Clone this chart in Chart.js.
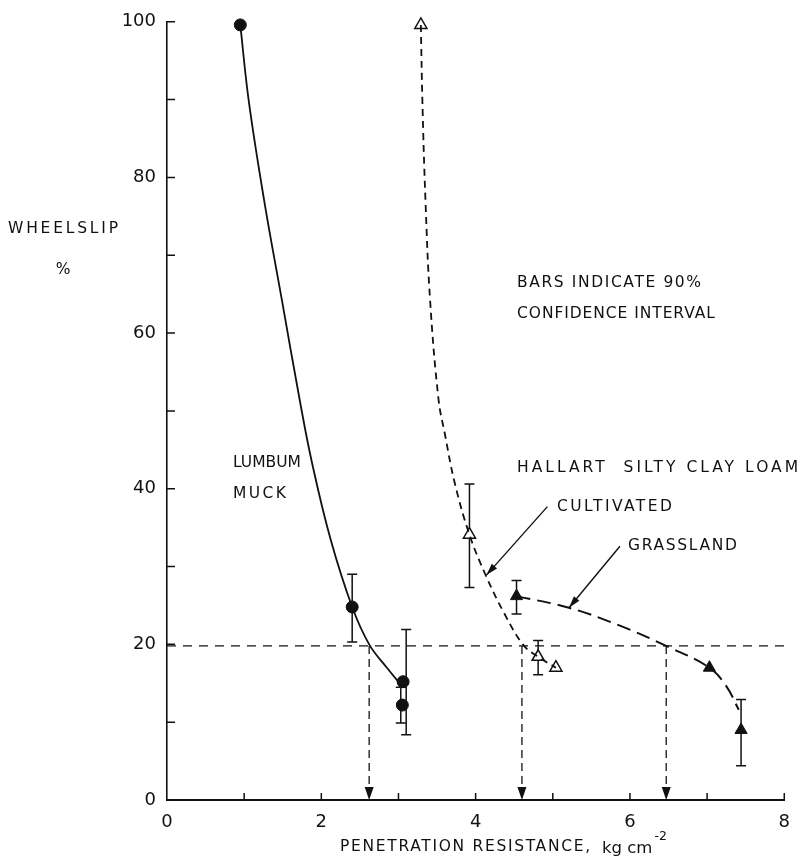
<!DOCTYPE html>
<html><head><meta charset="utf-8">
<script src="https://cdn.jsdelivr.net/npm/chart.js@4.4.0/dist/chart.umd.min.js"></script>
<style>html,body{margin:0;padding:0;background:#fff}#wrap{width:802px;height:866px;position:relative}</style>
</head><body><div id="wrap"><canvas id="c" width="802" height="866"></canvas></div>
<script>
// ---------- data ----------
const xTickValues=[0,1,2,3,4,5,6,7,8];
const xTickLabels=['0','','2','','4','','6','','8'];
const yTickValues=[0,10,20,30,40,50,60,70,80,90,100];
const yTickLabels=['0','','20','','40','','60','','80','','100'];

// Lumbum muck (filled circles, solid curve)
const lumbumX=[0.95,2.40,3.06,3.05];
const lumbumY=[99.6,24.8,15.2,12.2];
const lumbumErrX=[2.40,3.10,3.03];
const lumbumErrLo=[20.3,8.4,9.9];
const lumbumErrHi=[29.0,21.9,14.5];
const lumbumCurveX=[0.95,1.06,1.26,1.49,1.72,1.88,2.12,2.40,2.62,2.85,3.05];
const lumbumCurveY=[99.6,89.8,77.0,64.2,51.4,43.3,33.5,24.8,20.0,17.0,14.6];

// Hallart cultivated (open triangles, short dashes)
const cultX=[3.29,3.92,4.81,5.04];
const cultY=[99.6,34.1,18.4,17.0];
const cultErrX=[3.92,4.81];
const cultErrLo=[27.3,16.1];
const cultErrHi=[40.6,20.5];
const cultCurveX=[3.29,3.31,3.35,3.41,3.52,3.60,3.73,3.92,4.13,4.37,4.62,4.81,5.04];
const cultCurveY=[99.6,89.8,77.0,64.2,51.4,47.1,40.7,34.1,28.9,24.0,19.9,18.4,17.0];

// Hallart grassland (filled triangles, long dashes)
const grassX=[4.53,7.03,7.44];
const grassY=[26.2,17.0,9.0];
const grassErrX=[4.53,7.44];
const grassErrLo=[23.9,4.4];
const grassErrHi=[28.2,12.9];
const grassCurveX=[4.53,5.21,5.87,6.49,7.03,7.25,7.41];
const grassCurveY=[26.2,24.7,22.4,19.7,17.0,14.6,11.6];

// 20 % reference and the intercepts
const refY=19.8;
const refXs=[2.62,4.60,6.47];

const ink='#111';
const FONT='"DejaVu Sans", sans-serif';
const TXT='15.5px '+FONT;

function pts(xs,ys){return xs.map((x,i)=>({x:x,y:ys[i]}));}

function arrowHead(ctx,x1,y1,x2,y2,len,half){
  const a=Math.atan2(y2-y1,x2-x1);
  ctx.beginPath();
  ctx.moveTo(x2,y2);
  ctx.lineTo(x2-len*Math.cos(a)+half*Math.sin(a), y2-len*Math.sin(a)-half*Math.cos(a));
  ctx.lineTo(x2-len*Math.cos(a)-half*Math.sin(a), y2-len*Math.sin(a)+half*Math.cos(a));
  ctx.closePath();ctx.fill();
}
function fitText(ctx,txt,x,y,w){
  ctx.font=TXT;
  ctx.letterSpacing='0px';
  const m=ctx.measureText(txt).width;
  const ls=txt.length>1?(w-m)/(txt.length-1):0;
  ctx.letterSpacing=ls.toFixed(2)+'px';
  ctx.fillText(txt,x,y);
  ctx.letterSpacing='0px';
}

const decor={
  id:'decor',
  beforeDatasetsDraw(chart){
    const ctx=chart.ctx,xs=chart.scales.x,ys=chart.scales.y;
    ctx.save();
    ctx.strokeStyle=ink;ctx.lineWidth=1.5;ctx.setLineDash([]);
    const bars=[[lumbumErrX,lumbumErrLo,lumbumErrHi],[cultErrX,cultErrLo,cultErrHi],[grassErrX,grassErrLo,grassErrHi]];
    bars.forEach(([ex,lo,hi])=>{
      ex.forEach((x,i)=>{
        const px=xs.getPixelForValue(x),p1=ys.getPixelForValue(lo[i]),p2=ys.getPixelForValue(hi[i]);
        ctx.beginPath();
        ctx.moveTo(px,p1);ctx.lineTo(px,p2);
        ctx.moveTo(px-5,p1);ctx.lineTo(px+5,p1);
        ctx.moveTo(px-5,p2);ctx.lineTo(px+5,p2);
        ctx.stroke();
      });
    });
    ctx.restore();
  },
  afterDatasetsDraw(chart){
    const ctx=chart.ctx,xs=chart.scales.x,ys=chart.scales.y;
    const X=v=>xs.getPixelForValue(v),Y=v=>ys.getPixelForValue(v);
    ctx.save();
    ctx.fillStyle=ink;ctx.strokeStyle=ink;
    // inward tick marks
    ctx.lineWidth=1.5;ctx.setLineDash([]);
    ctx.beginPath();
    yTickValues.forEach(v=>{if(v>0){ctx.moveTo(X(0),Y(v));ctx.lineTo(X(0)+8,Y(v));}});
    xTickValues.forEach(v=>{if(v>0){ctx.moveTo(X(v),Y(0));ctx.lineTo(X(v),Y(0)-7);}});
    ctx.stroke();
    // arrowheads on intercept lines
    refXs.forEach(v=>arrowHead(ctx,X(v),Y(refY),X(v),Y(0),13,4.5));
    // annotation arrows
    ctx.lineWidth=1.4;
    const ann=[[4.93,37.7,4.14,28.9],[5.87,32.6,5.21,24.7]];
    ann.forEach(([a,b,c,d])=>{
      ctx.beginPath();ctx.moveTo(X(a),Y(b));ctx.lineTo(X(c),Y(d));ctx.stroke();
      arrowHead(ctx,X(a),Y(b),X(c),Y(d),12,3.5);
    });
    // texts
    ctx.textAlign='left';ctx.textBaseline='middle';
    fitText(ctx,'WHEELSLIP',8,229,110);
    ctx.font=TXT;
    ctx.textAlign='center';ctx.fillText('%',63,270);ctx.textAlign='left';
    fitText(ctx,'BARS INDICATE 90%',517,283,184);
    fitText(ctx,'CONFIDENCE INTERVAL',517,314,198);
    fitText(ctx,'LUMBUM',233,463,68);
    fitText(ctx,'MUCK',233,494,53);
    fitText(ctx,'HALLART  SILTY CLAY LOAM',517,468,281);
    fitText(ctx,'CULTIVATED',557,507,115);
    fitText(ctx,'GRASSLAND',628,546,109);
    // x axis title with superscript
    fitText(ctx,'PENETRATION RESISTANCE,',340,847,250);
    ctx.font='16.5px '+FONT;
    ctx.fillText('kg cm',602,849);
    const wkg=ctx.measureText('kg cm').width;
    ctx.font='12.5px '+FONT;
    ctx.fillText('-2',604+wkg,837);
    ctx.restore();
  }
};

const curveStyle={showLine:true,pointRadius:0,borderColor:ink,fill:false,tension:0.4,clip:false};
new Chart(document.getElementById('c'),{
  type:'scatter',
  data:{datasets:[
    Object.assign({data:pts(lumbumCurveX,lumbumCurveY),borderWidth:1.8},curveStyle),
    Object.assign({data:pts(cultCurveX,cultCurveY),borderWidth:1.8,borderDash:[7,5]},curveStyle),
    Object.assign({data:pts(grassCurveX,grassCurveY),borderWidth:2,borderDash:[14,7]},curveStyle),
    {data:[{x:0,y:refY},{x:8,y:refY}],showLine:true,pointRadius:0,borderColor:ink,borderWidth:1.3,borderDash:[9,7],tension:0},
    ...refXs.map(v=>({data:[{x:v,y:refY},{x:v,y:1.5}],showLine:true,pointRadius:0,borderColor:ink,borderWidth:1.3,borderDash:[8,5],tension:0})),
    {data:pts(lumbumX,lumbumY),pointStyle:'circle',pointRadius:6,backgroundColor:ink,borderColor:ink,borderWidth:1,clip:false},
    {data:pts(cultX,cultY),pointStyle:'triangle',pointRadius:7,backgroundColor:'#fff',borderColor:ink,borderWidth:1.5,clip:false},
    {data:pts(grassX,grassY),pointStyle:'triangle',pointRadius:7,backgroundColor:ink,borderColor:ink,borderWidth:1,clip:false}
  ]},
  options:{
    responsive:false,animation:false,devicePixelRatio:1,
    layout:{padding:{left:0,right:11,top:21,bottom:0}},
    plugins:{legend:{display:false},tooltip:{enabled:false}},
    events:[],
    scales:{
      x:{type:'linear',min:0,max:8,
        afterBuildTicks:s=>{s.ticks=xTickValues.map(v=>({value:v}));},
        ticks:{callback:(v,i)=>xTickLabels[i],font:{family:FONT,size:18},color:ink,padding:12,maxRotation:0,autoSkip:false},
        grid:{display:false,drawTicks:false},
        border:{display:true,color:ink,width:2},
        afterFit:s=>{s.height=66;}},
      y:{type:'linear',min:0,max:100,
        afterBuildTicks:s=>{s.ticks=yTickValues.map(v=>({value:v}));},
        ticks:{callback:(v,i)=>yTickLabels[i],font:{family:FONT,size:18},color:ink,padding:11,autoSkip:false},
        grid:{display:false,drawTicks:false},
        border:{display:true,color:ink,width:1.6},
        afterFit:s=>{s.width=167;}}
    }
  },
  plugins:[decor]
});
</script></body></html>
